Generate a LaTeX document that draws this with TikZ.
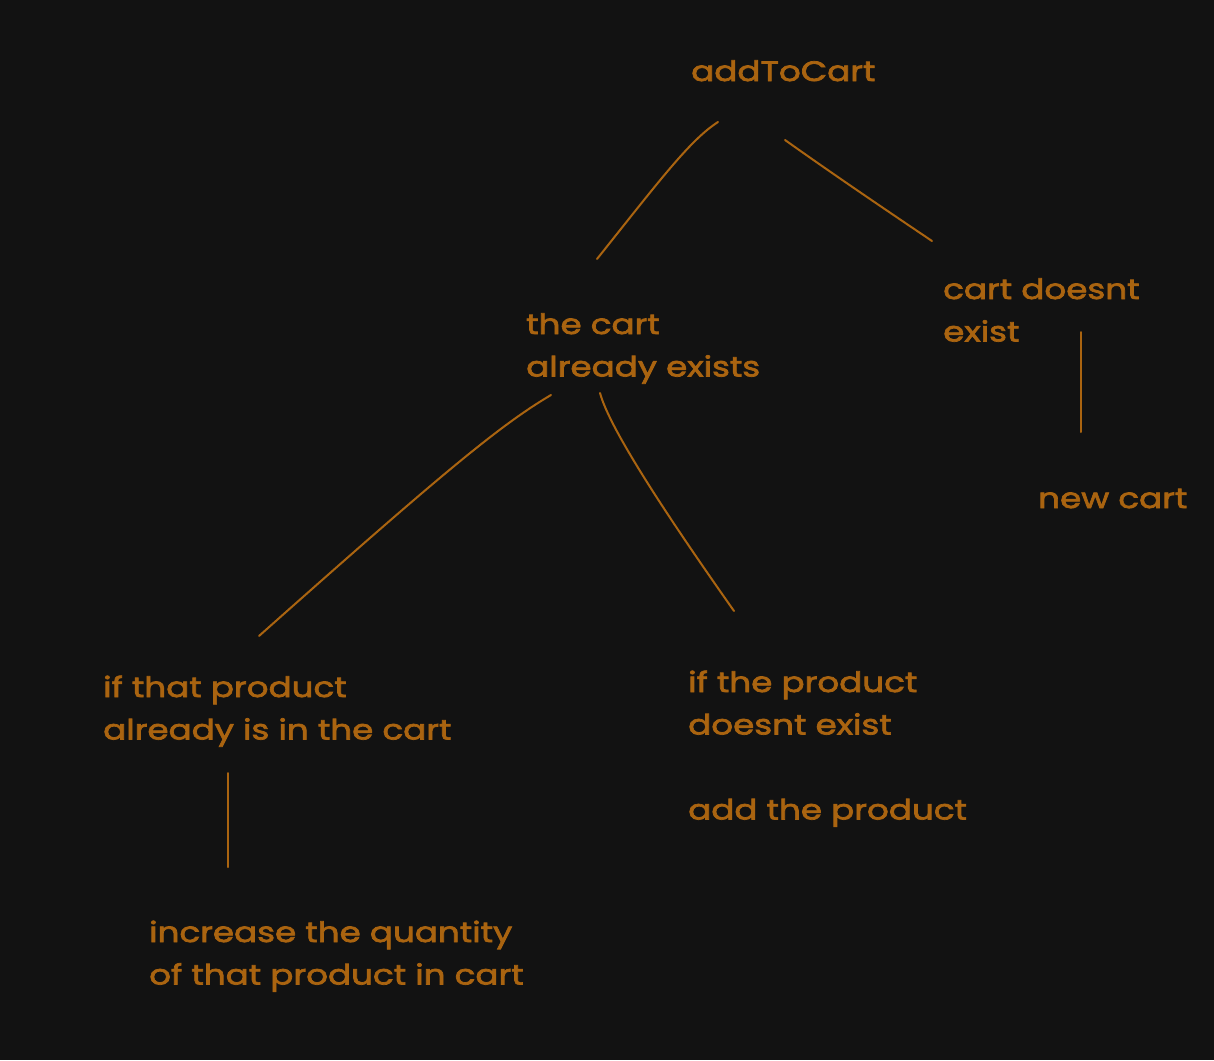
\documentclass[tikz,border=0pt]{standalone}
\usepackage{fontspec}
\setmainfont[FakeStretch=1.22,FakeBold=2.5]{Poppins}
\definecolor{bg}{RGB}{18,18,18}
\definecolor{ink}{RGB}{170,100,16}
\newcommand{\mlines}[1]{\begin{tabular}[t]{@{}l@{}}#1\end{tabular}}
\begin{document}
\begin{tikzpicture}[x=1pt,y=-1pt,
  lbl/.style={anchor=base west,inner sep=0pt,text=ink,font=\fontsize{28}{42.5}\selectfont},
  conn/.style={draw=ink,line width=2pt,line cap=round}]
\fill[bg] (0,0) rectangle (1214,1060);
\useasboundingbox (0,0) rectangle (1214,1060);
\node[lbl] (root) at (691,81) {addToCart};
\node[lbl] (exists) at (526,334) {\mlines{the cart\\already exists}};
\node[lbl] (nocart) at (943,299) {\mlines{cart doesnt\\exist}};
\node[lbl] (newcart) at (1038,508) {new cart};
\node[lbl] (inCart) at (103,697) {\mlines{if that product\\already is in the cart}};
\node[lbl] (notIn) at (688,692) {\mlines{if the product\\doesnt exist\\ \\add the product}};
\node[lbl] (incr) at (149,942) {\mlines{increase the quantity\\of that product in cart}};
\coordinate (a1) at (718,122); \coordinate (a2) at (597,259);
\coordinate (b1) at (785,140); \coordinate (b2) at (932,241);
\coordinate (c1) at (551,395); \coordinate (c2) at (259,636);
\coordinate (d1) at (600,393); \coordinate (d2) at (734,611);
\coordinate (e1) at (1081,332); \coordinate (e2) at (1081,432);
\coordinate (f1) at (228,773); \coordinate (f2) at (228,867);
\draw[conn] (a1) .. controls (690,140) and (660,180) .. (a2);
\draw[conn] (b1) .. controls (830,172) and (880,206) .. (b2);
\draw[conn] (c1) .. controls (500,425) and (440,475) .. (c2);
\draw[conn] (d1) .. controls (610,430) and (670,520) .. (d2);
\draw[conn] (e1) -- (e2);
\draw[conn] (f1) -- (f2);
\end{tikzpicture}
\end{document}
